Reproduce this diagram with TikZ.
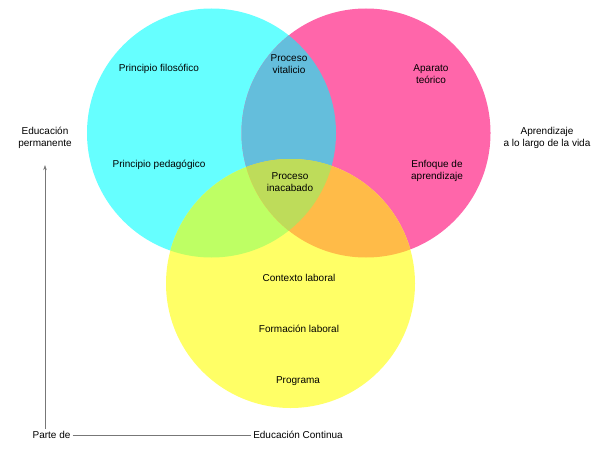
\documentclass[tikz,border=0pt]{standalone}
\usepackage{fontspec}
\setmainfont{Liberation Sans}
\usetikzlibrary{arrows.meta}
\definecolor{cian}{HTML}{66FFFF}
\definecolor{rosa}{HTML}{FF66AA}
\definecolor{amarillo}{HTML}{FFFF66}
\definecolor{azul}{HTML}{64BEDC}
\definecolor{lima}{HTML}{BEFF64}
\definecolor{naranja}{HTML}{FFBB48}
\definecolor{centro}{HTML}{BEDC5A}
\definecolor{linea}{HTML}{777777}
\begin{document}
\begin{tikzpicture}[x=1pt,y=-1pt,
  txt/.style={font=\fontsize{10}{12.5}\selectfont, align=center, inner sep=2pt},
  flecha/.style={draw=linea, -{Stealth[length=5pt,width=3.5pt]}}]
\useasboundingbox (0,0) rectangle (609,457);
\coordinate (cC) at (211.5,133);
\coordinate (cR) at (366,133);
\coordinate (cA) at (290.5,283.5);
% Circles
\fill[cian] (cC) circle (124.5pt);
\fill[rosa] (cR) circle (124.5pt);
\fill[amarillo] (cA) circle (124.5pt);
% Overlaps
\begin{scope}
\clip (cC) circle (124.5pt);
\fill[azul] (cR) circle (124.5pt);
\fill[lima] (cA) circle (124.5pt);
\end{scope}
\begin{scope}
\clip (cR) circle (124.5pt);
\fill[naranja] (cA) circle (124.5pt);
\end{scope}
\begin{scope}
\clip (cC) circle (124.5pt);
\clip (cR) circle (124.5pt);
\fill[centro] (cA) circle (124.5pt);
\end{scope}
% Labels in the circles
\node[txt] (filos) at (159,69) {Principio filosófico};
\node[txt] (pedag) at (159,165) {Principio pedagógico};
\node[txt] (vital) at (289,64) {Proceso\\vitalicio};
\node[txt] (aparato) at (431,74) {Aparato\\teórico};
\node[txt] (enfoque) at (437,171) {Enfoque de\\aprendizaje};
\node[txt] (inacab) at (290,182) {Proceso\\inacabado};
\node[txt] (contexto) at (299,278) {Contexto laboral};
\node[txt] (formacion) at (299,329) {Formación laboral};
\node[txt] (programa) at (298,381) {Programa};
% Outside labels
\node[txt] (edperm) at (45,138) {Educación\\permanente};
\node[txt] (aprend) at (547,138) {Aprendizaje\\a lo largo de la vida};
\node[txt] (parte) at (51.5,435) {Parte de};
\node[txt] (edcont) at (298,435) {Educación Continua};
\draw[draw=linea] (parte) -- (edcont);
\draw[flecha, shorten >=14pt] (parte.north -| edperm.south) -- (edperm.south);
\end{tikzpicture}
\end{document}
